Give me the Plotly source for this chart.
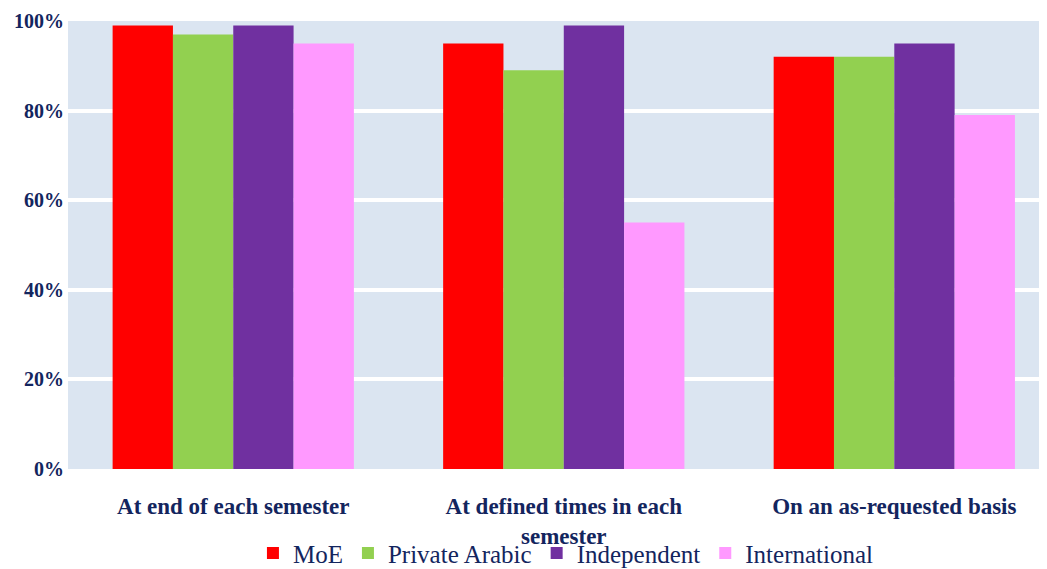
import plotly.graph_objects as go

categories = ["At end of each semester", "At defined times in each<br>semester", "On an as-requested basis"]
series_names = ["MoE", "Private Arabic", "Independent", "International"]
moe = [0.99, 0.95, 0.92]
private_arabic = [0.97, 0.89, 0.92]
independent = [0.99, 0.99, 0.95]
international = [0.95, 0.55, 0.79]
colors = ["#ff0000", "#92d050", "#7030a0", "#ff99ff"]
ytick_vals = [0, 0.2, 0.4, 0.6, 0.8, 1.0]
ytick_text = ["0%", "20%", "40%", "60%", "80%", "100%"]

navy = "#13255e"
serif = "Liberation Serif"

fig = go.Figure()
for name, vals, col in zip(series_names, [moe, private_arabic, independent, international], colors):
    fig.add_trace(go.Bar(x=categories, y=vals, name=name, marker=dict(color=col, line=dict(width=0))))

fig.update_layout(
    width=1039, height=561,
    margin=dict(l=60, r=0, t=13, b=100, autoexpand=False),
    paper_bgcolor="white",
    plot_bgcolor="#dbe5f1",
    barmode="group",
    bargap=0.27,
    bargroupgap=0,
    showlegend=True,
    legend=dict(
        orientation="h",
        xref="container", yref="paper",
        x=0.537, xanchor="center",
        y=-0.188, yanchor="middle",
        font=dict(family=serif, size=25, color=navy),
        bgcolor="rgba(0,0,0,0)",
        itemsizing="constant",
        traceorder="normal",
    ),
    xaxis=dict(
        range=[-0.5, 2.462],
        showgrid=False,
        zeroline=False,
        showline=False,
        tickfont=dict(family=serif, size=23, color=navy, weight="bold"),
        ticklabelstandoff=21,
    ),
    yaxis=dict(
        range=[0, 1.0],
        tickvals=ytick_vals,
        ticktext=ytick_text,
        showgrid=True,
        gridcolor="white",
        gridwidth=4,
        zeroline=False,
        showline=False,
        tickfont=dict(family=serif, size=20, color=navy, weight="bold"),
        ticklabelstandoff=3,
    ),
)

fig.write_html("out.html")
